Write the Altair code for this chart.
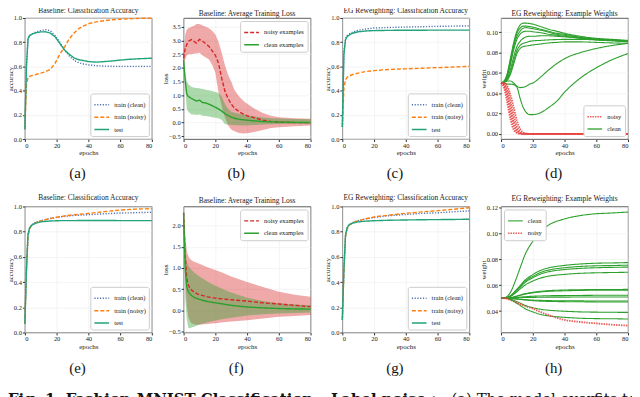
import altair as alt
import pandas as pd

SERIF = "Liberation Serif"
CAPFONT = "DejaVu Serif"
BLUE = "#4c72b0"
ORANGE = "#ff7f0e"
TEAL = "#22a37a"
RED = "#d62728"
GREEN = "#2ca02c"
WRED = "#e8423f"

XTICKS = [0, 20, 40, 60, 80]
ACC_TICKS = [0.0, 0.2, 0.4, 0.6, 0.8, 1.0]

# ---------------- (a) baseline accuracy, label noise ----------------
EP_A = [0, 1, 2, 3, 5, 7, 10, 13, 16, 19, 22, 25, 28, 31, 34, 37, 40, 45, 50, 55, 60, 65, 70, 75, 80]
A_CLEAN = [0.08, 0.62, 0.83, 0.855, 0.872, 0.884, 0.895, 0.903, 0.895, 0.855, 0.80, 0.737, 0.685, 0.65, 0.63, 0.62, 0.613, 0.606, 0.603, 0.601, 0.60, 0.60, 0.60, 0.60, 0.60]
A_NOISY = [0.08, 0.45, 0.51, 0.518, 0.526, 0.533, 0.545, 0.555, 0.575, 0.625, 0.70, 0.76, 0.83, 0.876, 0.913, 0.934, 0.953, 0.968, 0.978, 0.985, 0.99, 0.993, 0.996, 0.998, 0.999]
A_TEST = [0.08, 0.60, 0.83, 0.855, 0.87, 0.878, 0.885, 0.886, 0.875, 0.845, 0.79, 0.735, 0.70, 0.67, 0.655, 0.648, 0.64, 0.635, 0.64, 0.645, 0.652, 0.658, 0.662, 0.665, 0.668]

# ---------------- (b) baseline loss, label noise ----------------
EP_B = [0, 1, 2, 3, 5, 7, 8, 10, 12, 14, 16, 18, 20, 22, 24, 26, 28, 30, 32, 35, 38, 41, 45, 50, 55, 60, 70, 80]
B_NOISY = [2.35, 2.7, 2.85, 2.97, 3.03, 2.95, 2.9, 3.04, 2.97, 2.88, 2.78, 2.62, 2.46, 2.17, 1.62, 1.15, 0.88, 0.68, 0.53, 0.40, 0.30, 0.23, 0.17, 0.09, 0.04, 0.02, 0.0, 0.0]
B_NOISY_HI = [2.5, 3.2, 3.4, 3.45, 3.5, 3.55, 3.6, 3.6, 3.55, 3.5, 3.45, 3.35, 3.22, 2.95, 2.55, 2.1, 1.75, 1.5, 1.2, 0.95, 0.78, 0.65, 0.5, 0.35, 0.25, 0.2, 0.16, 0.14]
B_NOISY_LO = [2.2, 2.3, 2.45, 2.5, 2.5, 2.52, 2.52, 2.55, 2.45, 2.38, 2.3, 2.1, 1.82, 1.1, 0.6, 0.2, -0.1, -0.25, -0.32, -0.38, -0.4, -0.38, -0.33, -0.27, -0.2, -0.17, -0.13, -0.11]
B_CLEAN = [2.28, 1.55, 1.05, 0.95, 0.88, 0.82, 0.79, 0.82, 0.73, 0.72, 0.67, 0.62, 0.56, 0.5, 0.42, 0.33, 0.26, 0.2, 0.16, 0.12, 0.1, 0.08, 0.06, 0.04, 0.03, 0.02, 0.01, 0.0]
B_CLEAN_HI = [2.38, 1.82, 1.5, 1.4, 1.3, 1.27, 1.26, 1.25, 1.23, 1.2, 1.18, 1.15, 1.12, 1.08, 0.95, 0.68, 0.5, 0.4, 0.36, 0.32, 0.29, 0.26, 0.22, 0.19, 0.16, 0.15, 0.13, 0.12]
B_CLEAN_LO = [2.2, 1.3, 0.5, 0.4, 0.3, 0.3, 0.28, 0.3, 0.25, 0.24, 0.22, 0.2, 0.18, 0.16, 0.1, -0.05, -0.08, -0.08, -0.1, -0.1, -0.11, -0.1, -0.09, -0.07, -0.06, -0.05, -0.04, -0.04]

# ---------------- (c) EG accuracy, label noise ----------------
EP_C = [0, 1, 2, 3, 5, 7, 10, 15, 20, 25, 30, 40, 50, 60, 70, 80]
C_CLEAN = [0.1, 0.72, 0.83, 0.855, 0.875, 0.886, 0.898, 0.91, 0.917, 0.92, 0.922, 0.925, 0.928, 0.931, 0.933, 0.935]
C_NOISY = [0.1, 0.42, 0.49, 0.51, 0.525, 0.535, 0.545, 0.558, 0.565, 0.571, 0.575, 0.58, 0.585, 0.59, 0.595, 0.60]
C_TEST = [0.1, 0.70, 0.82, 0.845, 0.865, 0.876, 0.886, 0.893, 0.896, 0.897, 0.898, 0.899, 0.899, 0.90, 0.90, 0.90]

# ---------------- (d) EG example weights, label noise ----------------
EP_D = [0, 2, 4, 6, 8, 10, 12, 14, 16, 18, 20, 25, 30, 35, 40, 50, 60, 70, 80]
D_CLEAN = [
    [0.050, 0.052, 0.060, 0.075, 0.090, 0.101, 0.107, 0.109, 0.109, 0.1085, 0.108, 0.1055, 0.103, 0.101, 0.099, 0.096, 0.094, 0.093, 0.092],
    [0.050, 0.052, 0.059, 0.073, 0.088, 0.099, 0.104, 0.106, 0.106, 0.1055, 0.105, 0.103, 0.101, 0.099, 0.098, 0.095, 0.0935, 0.0925, 0.0915],
    [0.050, 0.052, 0.058, 0.071, 0.086, 0.096, 0.101, 0.104, 0.1045, 0.104, 0.1035, 0.102, 0.100, 0.098, 0.097, 0.095, 0.093, 0.092, 0.091],
    [0.050, 0.051, 0.057, 0.069, 0.083, 0.093, 0.098, 0.1005, 0.101, 0.101, 0.1005, 0.0995, 0.098, 0.097, 0.096, 0.094, 0.0925, 0.0915, 0.0905],
    [0.050, 0.051, 0.055, 0.064, 0.076, 0.086, 0.091, 0.094, 0.0955, 0.096, 0.096, 0.0965, 0.0965, 0.096, 0.0955, 0.0945, 0.093, 0.092, 0.091],
    [0.050, 0.051, 0.054, 0.061, 0.072, 0.082, 0.087, 0.089, 0.090, 0.091, 0.0915, 0.092, 0.0925, 0.0928, 0.093, 0.093, 0.0925, 0.092, 0.0915],
    [0.050, 0.051, 0.053, 0.059, 0.069, 0.079, 0.084, 0.086, 0.0865, 0.087, 0.0875, 0.0885, 0.0895, 0.090, 0.0905, 0.0905, 0.090, 0.0895, 0.089],
    [0.050, 0.051, 0.052, 0.052, 0.050, 0.047, 0.0455, 0.046, 0.047, 0.049, 0.050, 0.056, 0.063, 0.069, 0.074, 0.080, 0.084, 0.087, 0.089],
    [0.050, 0.050, 0.049, 0.049, 0.0485, 0.046, 0.035, 0.026, 0.021, 0.019, 0.019, 0.021, 0.026, 0.032, 0.041, 0.055, 0.065, 0.073, 0.079],
]
D_NOISY = [
    [0.050, 0.045, 0.030, 0.014, 0.004, 0.001, 0.0, 0.0, 0.0, 0.0, 0.0, 0.0, 0.0, 0.0, 0.0, 0.0, 0.0, 0.0, 0.0],
    [0.050, 0.047, 0.036, 0.020, 0.008, 0.002, 0.0005, 0.0, 0.0, 0.0, 0.0, 0.0, 0.0, 0.0, 0.0, 0.0, 0.0, 0.0, 0.0],
    [0.050, 0.048, 0.040, 0.026, 0.012, 0.004, 0.001, 0.0, 0.0, 0.0, 0.0, 0.0, 0.0, 0.0, 0.0, 0.0, 0.0, 0.0, 0.0],
    [0.050, 0.049, 0.044, 0.032, 0.018, 0.007, 0.002, 0.0005, 0.0, 0.0, 0.0, 0.0, 0.0, 0.0, 0.0, 0.0, 0.0, 0.0, 0.0],
    [0.050, 0.050, 0.047, 0.038, 0.026, 0.013, 0.005, 0.0015, 0.0003, 0.0, 0.0, 0.0, 0.0, 0.0, 0.0, 0.0, 0.0, 0.0, 0.0],
]

# ---------------- (e) baseline accuracy, clean ----------------
EP_E = [0, 1, 2, 3, 4, 5, 7, 10, 15, 20, 25, 30, 40, 50, 60, 70, 80]
E_CLEAN = [0.07, 0.5, 0.78, 0.83, 0.85, 0.862, 0.875, 0.887, 0.903, 0.914, 0.922, 0.928, 0.935, 0.942, 0.948, 0.951, 0.954]
E_NOISY = [0.07, 0.5, 0.77, 0.82, 0.845, 0.858, 0.872, 0.885, 0.902, 0.915, 0.925, 0.933, 0.945, 0.959, 0.972, 0.979, 0.983]
E_TEST = [0.07, 0.5, 0.78, 0.83, 0.848, 0.857, 0.868, 0.878, 0.884, 0.887, 0.888, 0.888, 0.889, 0.889, 0.888, 0.888, 0.888]

# ---------------- (f) baseline loss, clean ----------------
EP_F = [0, 1, 2, 3, 4, 5, 7, 10, 15, 20, 25, 30, 40, 50, 60, 70, 80]
F_NOISY = [2.3, 1.3, 0.75, 0.6, 0.52, 0.48, 0.42, 0.37, 0.32, 0.29, 0.27, 0.25, 0.22, 0.18, 0.15, 0.12, 0.09]
F_NOISY_HI = [2.35, 1.8, 1.4, 1.28, 1.22, 1.18, 1.14, 1.1, 1.02, 0.95, 0.88, 0.8, 0.67, 0.55, 0.44, 0.37, 0.32]
F_NOISY_LO = [2.2, 0.8, 0.1, -0.15, -0.25, -0.3, -0.33, -0.34, -0.32, -0.3, -0.28, -0.26, -0.23, -0.19, -0.15, -0.13, -0.11]
F_CLEAN = [2.3, 1.0, 0.55, 0.45, 0.39, 0.35, 0.3, 0.26, 0.21, 0.18, 0.15, 0.12, 0.08, 0.06, 0.045, 0.035, 0.03]
F_CLEAN_HI = [2.35, 1.5, 1.15, 1.05, 1.0, 0.95, 0.88, 0.8, 0.68, 0.58, 0.5, 0.42, 0.3, 0.22, 0.17, 0.14, 0.12]
F_CLEAN_LO = [2.2, 0.3, -0.2, -0.4, -0.42, -0.4, -0.38, -0.33, -0.28, -0.24, -0.2, -0.17, -0.12, -0.09, -0.07, -0.06, -0.05]

# ---------------- (g) EG accuracy, clean ----------------
EP_G = [0, 1, 2, 3, 4, 5, 7, 10, 15, 20, 25, 30, 40, 50, 60, 70, 80]
G_CLEAN = [0.1, 0.5, 0.77, 0.83, 0.85, 0.862, 0.876, 0.888, 0.902, 0.913, 0.921, 0.927, 0.937, 0.945, 0.95, 0.958, 0.965]
G_NOISY = [0.1, 0.48, 0.76, 0.82, 0.845, 0.858, 0.873, 0.887, 0.903, 0.917, 0.925, 0.932, 0.946, 0.957, 0.967, 0.978, 0.99]
G_TEST = [0.1, 0.5, 0.77, 0.83, 0.85, 0.86, 0.87, 0.878, 0.884, 0.887, 0.889, 0.891, 0.893, 0.895, 0.896, 0.897, 0.899]

# ---------------- (h) EG example weights, clean ----------------
EP_H = [0, 3, 6, 9, 12, 15, 20, 25, 30, 40, 50, 60, 70, 80]
H_CLEAN = [
    [0.050, 0.0507, 0.0547, 0.0633, 0.0733, 0.0833, 0.0939, 0.1019, 0.1065, 0.1112, 0.1138, 0.1152, 0.1158, 0.1165],
    [0.050, 0.0503, 0.0519, 0.0555, 0.0596, 0.0638, 0.0682, 0.0715, 0.0734, 0.0753, 0.0764, 0.0770, 0.0772, 0.0775],
    [0.050, 0.0503, 0.0518, 0.0551, 0.0589, 0.0628, 0.0668, 0.0699, 0.0717, 0.0735, 0.0745, 0.0750, 0.0752, 0.0755],
    [0.050, 0.0502, 0.0517, 0.0548, 0.0584, 0.0620, 0.0658, 0.0687, 0.0704, 0.0721, 0.0730, 0.0735, 0.0738, 0.0740],
    [0.050, 0.0502, 0.0514, 0.0540, 0.0570, 0.0600, 0.0632, 0.0656, 0.0670, 0.0684, 0.0692, 0.0696, 0.0698, 0.0700],
    [0.050, 0.0501, 0.0505, 0.0514, 0.0524, 0.0534, 0.0545, 0.0553, 0.0558, 0.0563, 0.0565, 0.0567, 0.0567, 0.0568],
    [0.050, 0.0501, 0.0504, 0.0512, 0.0522, 0.0531, 0.0541, 0.0548, 0.0553, 0.0557, 0.0560, 0.0561, 0.0561, 0.0562],
    [0.050, 0.0500, 0.0502, 0.0504, 0.0508, 0.0511, 0.0515, 0.0517, 0.0519, 0.0520, 0.0521, 0.0522, 0.0522, 0.0522],
    [0.050, 0.0500, 0.0501, 0.0502, 0.0503, 0.0505, 0.0506, 0.0507, 0.0508, 0.0508, 0.0509, 0.0509, 0.0509, 0.0509],
    [0.050, 0.0500, 0.0498, 0.0496, 0.0492, 0.0489, 0.0485, 0.0483, 0.0481, 0.0480, 0.0479, 0.0478, 0.0478, 0.0478],
    [0.050, 0.0500, 0.0498, 0.0494, 0.0490, 0.0486, 0.0481, 0.0477, 0.0475, 0.0473, 0.0472, 0.0471, 0.0471, 0.0471],
    [0.050, 0.0499, 0.0492, 0.0478, 0.0462, 0.0445, 0.0427, 0.0414, 0.0407, 0.0399, 0.0394, 0.0392, 0.0391, 0.0390],
    [0.050, 0.0498, 0.0489, 0.0468, 0.0444, 0.0420, 0.0394, 0.0374, 0.0363, 0.0352, 0.0345, 0.0342, 0.0341, 0.0339],
]
H_NOISY = [
    [0.050, 0.0498, 0.0485, 0.0470, 0.0455, 0.0440, 0.0420, 0.0392, 0.0370, 0.0332, 0.0316, 0.0305, 0.0295, 0.0288],
]

CAPTION_BOLD = "Fig. 1. Fashion-MNIST Classification \u2013 Label noise :"
CAPTION_REST = "(a) The model overfits to"


def long(ep, series):
    rows = []
    for name, vals in series.items():
        for e, v in zip(ep, vals):
            rows.append({"epoch": e, "value": v, "series": name})
    return pd.DataFrame(rows)


def xenc():
    return alt.X("epoch:Q", scale=alt.Scale(domain=[0, 80], nice=False, zero=False),
                 axis=alt.Axis(values=XTICKS, title="epochs", format="d"))


def yenc(field, domain, ticks, fmt, title):
    return alt.Y(f"{field}:Q", scale=alt.Scale(domain=domain, nice=False, zero=False),
                 axis=alt.Axis(values=ticks, title=title, format=fmt,
                               labelExpr="replace(datum.label, '-', '\u2212')"))


def legend(orient):
    return alt.Legend(title=None, orient=orient, offset=3, padding=3, rowPadding=0.5,
                      labelFont=SERIF, labelFontSize=6.5, labelColor="#222",
                      symbolType="stroke", symbolSize=220, symbolStrokeWidth=1.5,
                      strokeColor="#cccccc", fillColor="white", cornerRadius=2)


def letter_layer(letter, ly):
    return alt.Chart(pd.DataFrame({"t": [letter]})).mark_text(
        font=SERIF, fontSize=15, color="#111", align="center", baseline="middle"
    ).encode(text="t:N", x=alt.value(53), y=alt.value(ly))


def title(text, off):
    return alt.TitleParams(text=text, font=SERIF, fontSize=7.5, fontWeight="normal",
                           offset=off, anchor="middle", frame="group", color="#222")


def acc_panel(ttl, ep, clean, noisy, test, letter, h, ly, off, extra=None):
    order = ["train (clean)", "train (noisy)", "test"]
    df = long(ep, dict(zip(order, [clean, noisy, test])))
    lg = legend("bottom-right")
    lines = alt.Chart(df).mark_line(strokeWidth=1.4).encode(
        x=xenc(),
        y=yenc("value", [0, 1], ACC_TICKS, ".1f", "accuracy"),
        color=alt.Color("series:N", scale=alt.Scale(domain=order, range=[BLUE, ORANGE, TEAL]), legend=lg),
        strokeDash=alt.StrokeDash("series:N", scale=alt.Scale(domain=order, range=[[1.2, 1.6], [4, 2], [1, 0]]), legend=lg),
    )
    layers = [lines, letter_layer(letter, ly)]
    if extra:
        layers += extra
    return alt.layer(*layers).properties(width=128, height=h, title=title(ttl, off))


def loss_panel(ttl, ep, noisy, nlo, nhi, clean, clo, chi, domain, ticks, letter, h, ly, off):
    bdf = pd.DataFrame({"epoch": ep, "nlo": nlo, "nhi": nhi, "clo": clo, "chi": chi})
    order = ["noisy examples", "clean examples"]
    df = long(ep, dict(zip(order, [noisy, clean])))
    lg = legend("top-right")
    band_n = alt.Chart(bdf).mark_area(color=RED, opacity=0.4).encode(
        x=xenc(), y=yenc("nlo", domain, ticks, ".1f", "loss"), y2="nhi:Q")
    band_c = alt.Chart(bdf).mark_area(color=GREEN, opacity=0.4).encode(
        x=xenc(), y=yenc("clo", domain, ticks, ".1f", "loss"), y2="chi:Q")
    lines = alt.Chart(df).mark_line(strokeWidth=1.4).encode(
        x=xenc(),
        y=yenc("value", domain, ticks, ".1f", "loss"),
        color=alt.Color("series:N", scale=alt.Scale(domain=order, range=[RED, GREEN]), legend=lg),
        strokeDash=alt.StrokeDash("series:N", scale=alt.Scale(domain=order, range=[[4, 2], [1, 0]]), legend=lg),
    )
    return alt.layer(band_n, band_c, lines, letter_layer(letter, ly)).properties(
        width=128, height=h, title=title(ttl, off))


def weight_panel(ttl, ep, clean, noisy, domain, ticks, orient, order, letter, h, ly, off):
    rows = []
    for i, c in enumerate(clean):
        for e, v in zip(ep, c):
            rows.append({"epoch": e, "value": v, "curve": f"c{i}", "cls": "clean"})
    cdf = pd.DataFrame(rows)
    rows = []
    for i, c in enumerate(noisy):
        for e, v in zip(ep, c):
            rows.append({"epoch": e, "value": v, "curve": f"n{i}", "cls": "noisy"})
    ndf = pd.DataFrame(rows)
    lg = legend(orient)
    cmap = {"clean": GREEN, "noisy": WRED}
    dmap = {"clean": [1, 0], "noisy": [1.5, 1]}
    col = alt.Color("cls:N", scale=alt.Scale(domain=order, range=[cmap[o] for o in order]), legend=lg)
    dash = alt.StrokeDash("cls:N", scale=alt.Scale(domain=order, range=[dmap[o] for o in order]), legend=lg)
    y = yenc("value", domain, ticks, ".2f", "weight")
    lc = alt.Chart(cdf).mark_line(strokeWidth=1.1, interpolate="monotone").encode(
        x=xenc(), y=y, color=col, strokeDash=dash, detail="curve:N")
    ln = alt.Chart(ndf).mark_line(strokeWidth=1.8, opacity=0.85, interpolate="monotone").encode(
        x=xenc(), y=y, color=col, strokeDash=dash, detail="curve:N")
    return alt.layer(lc, ln, letter_layer(letter, ly)).properties(
        width=128, height=h, title=title(ttl, off))


cap1 = alt.Chart(pd.DataFrame({"t": [CAPTION_BOLD]})).mark_text(
    font=CAPFONT, fontSize=15, fontWeight="bold", align="left", baseline="alphabetic", color="#111"
).encode(text="t:N", x=alt.value(-17), y=alt.value(199))
cap2 = alt.Chart(pd.DataFrame({"t": [CAPTION_REST]})).mark_text(
    font=CAPFONT, fontSize=15, align="left", baseline="alphabetic", color="#111", limit=192, ellipsis=""
).encode(text="t:N", x=alt.value(430), y=alt.value(199))

H1 = 122
H2 = 127
LY1 = 156
LY2 = 163
OFF1 = 1
OFF2 = 2.5

pa = acc_panel("Baseline: Classification Accuracy", EP_A, A_CLEAN, A_NOISY, A_TEST, "(a)", H1, LY1, OFF1)
pb = loss_panel("Baseline: Average Training Loss", EP_B, B_NOISY, B_NOISY_LO, B_NOISY_HI,
                B_CLEAN, B_CLEAN_LO, B_CLEAN_HI, [-0.6, 3.82],
                [-0.5, 0.0, 0.5, 1.0, 1.5, 2.0, 2.5, 3.0, 3.5], "(b)", H1, LY1, OFF1)
pc = acc_panel("EG Reweighting: Classification Accuracy", EP_C, C_CLEAN, C_NOISY, C_TEST, "(c)", H1, LY1, OFF1)
pd_ = weight_panel("EG Reweighting: Example Weights", EP_D, D_CLEAN, D_NOISY, [-0.005, 0.114],
                   [0.0, 0.02, 0.04, 0.06, 0.08, 0.10], "bottom-right", ["noisy", "clean"], "(d)",
                   H1, LY1, OFF1)

pe = acc_panel("Baseline: Classification Accuracy", EP_E, E_CLEAN, E_NOISY, E_TEST, "(e)", H2, LY2, OFF2,
               extra=[cap1, cap2])
pf = loss_panel("Baseline: Average Training Loss", EP_F, F_NOISY, F_NOISY_LO, F_NOISY_HI,
                F_CLEAN, F_CLEAN_LO, F_CLEAN_HI, [-0.52, 2.45],
                [-0.5, 0.0, 0.5, 1.0, 1.5, 2.0], "(f)", H2, LY2, OFF2)
pg = acc_panel("EG Reweighting: Classification Accuracy", EP_G, G_CLEAN, G_NOISY, G_TEST, "(g)", H2, LY2, OFF2)
ph = weight_panel("EG Reweighting: Example Weights", EP_H, H_CLEAN, H_NOISY, [0.0235, 0.1208],
                  [0.04, 0.06, 0.08, 0.10, 0.12], "top-left", ["clean", "noisy"], "(h)", H2, LY2, OFF2)

chart = alt.concat(pa, pb, pc, pd_, pe, pf, pg, ph, columns=4,
                   spacing={"row": 68, "column": 32}, bounds="flush")
chart = chart.resolve_scale(color="independent", strokeDash="independent",
                            x="independent", y="independent") \
             .resolve_legend(color="independent", strokeDash="independent")

chart = chart.properties(
    padding={"left": -3, "top": -3.5, "right": -6, "bottom": -7},
    background="white",
).configure_axis(
    labelFont=SERIF, labelFontSize=6.5, labelColor="#222", titleFont=SERIF, titleFontSize=7,
    titleFontWeight="normal", titleColor="#222", tickColor="#333", tickSize=2.5, domain=False,
    gridColor="#ececec", gridWidth=0.6, labelPadding=1, titlePadding=0,
).configure_view(stroke="#333", strokeWidth=0.8)

chart.save("out.html", embed_options={"renderer": "svg", "actions": False})
